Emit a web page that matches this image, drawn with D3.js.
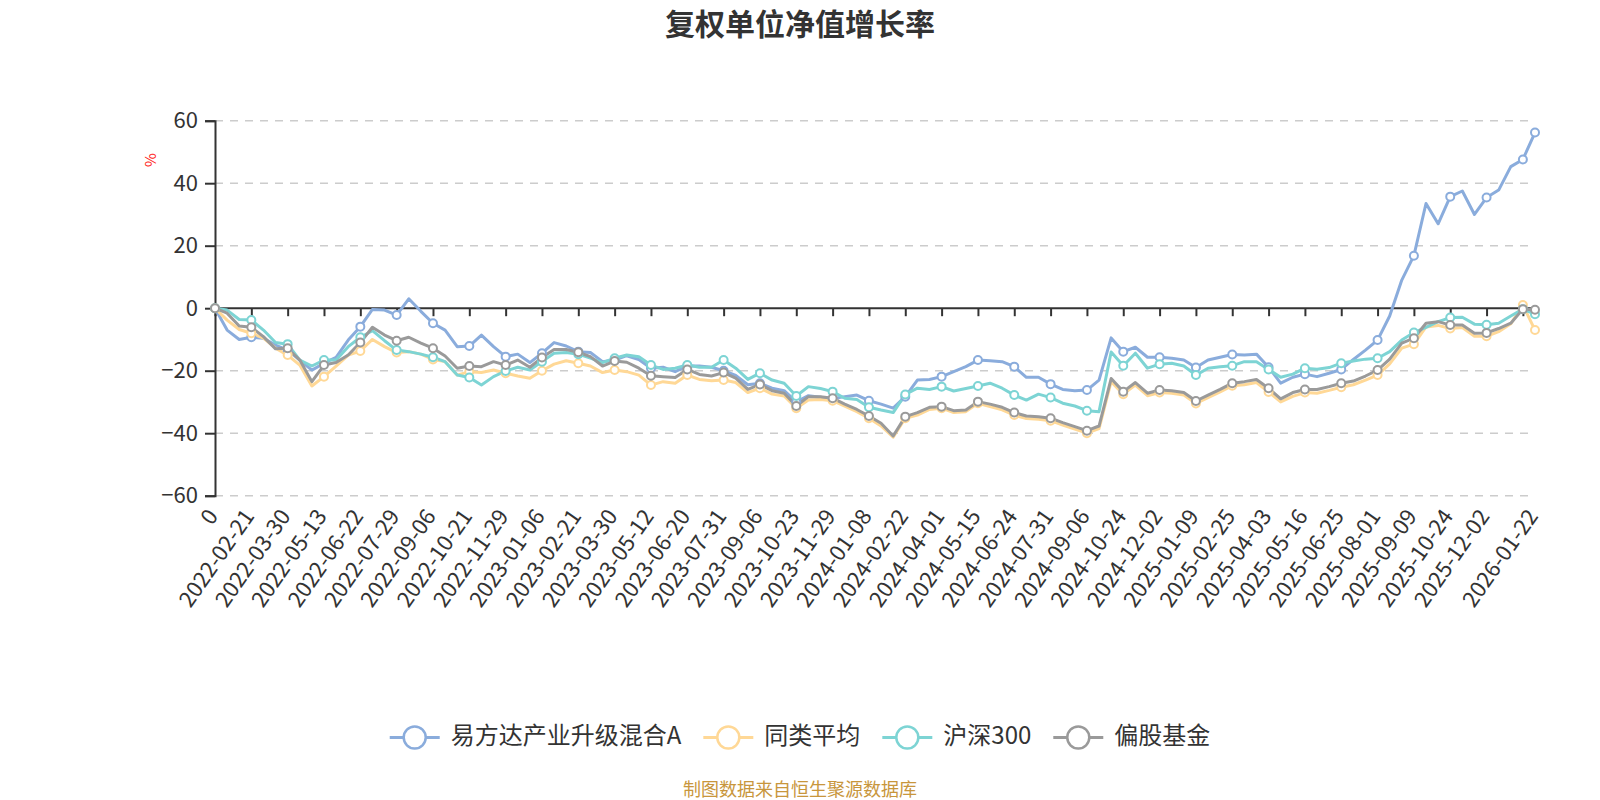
<!DOCTYPE html>
<html>
<head>
<meta charset="utf-8">
<script src="https://cdn.jsdelivr.net/npm/d3@7"></script>
<style>
  body { margin: 0; background: #fff; }
  text { font-family: "Noto Sans CJK SC", "Noto Sans", sans-serif; }
</style>
</head>
<body>
<div id="chart"></div>
<script>
// series names, in drawing order
const seriesNames = ["易方达产业升级混合A", "同类平均", "沪深300", "偏股基金"];
const seriesColors = ["#8aacdc", "#ffd896", "#7dd4d4", "#9a9a9a"];

// x-axis labels (every third sample, plus the last day)
const xLabels = ["0", "2022-02-21", "2022-03-30", "2022-05-13", "2022-06-22", "2022-07-29",
  "2022-09-06", "2022-10-21", "2022-11-29", "2023-01-06", "2023-02-21", "2023-03-30",
  "2023-05-12", "2023-06-20", "2023-07-31", "2023-09-06", "2023-10-23", "2023-11-29",
  "2024-01-08", "2024-02-22", "2024-04-01", "2024-05-15", "2024-06-24", "2024-07-31",
  "2024-09-06", "2024-10-24", "2024-12-02", "2025-01-09", "2025-02-25", "2025-04-03",
  "2025-05-16", "2025-06-25", "2025-08-01", "2025-09-09", "2025-10-24", "2025-12-02",
  "2026-01-22"];

const yTicks = [-60, -40, -20, 0, 20, 40, 60];

// values (%)
const fundA = [0, -7.0, -10.0, -9.3, -9.6, -11.8, -13.4, -16.6, -19.8, -17.6,
  -15.7, -10.2, -5.9, -0.4, -0.6, -2.2, 3.0, -1.0, -4.8, -7.0,
  -12.3, -12.1, -8.6, -12.3, -15.5, -14.7, -17.4, -14.4, -11.0, -12.1,
  -13.9, -14.2, -17.1, -16.6, -15.2, -16.4, -19.2, -18.9, -20.3, -18.5,
  -18.5, -18.9, -20.0, -21.5, -24.5, -24.0, -25.6, -26.4, -30.0, -28.0,
  -28.5, -29.0, -28.3, -27.8, -29.6, -30.7, -32.0, -28.3, -23.0, -22.8,
  -21.9, -20.3, -18.7, -16.6, -16.8, -17.1, -18.7, -22.1, -22.1, -24.3,
  -26.0, -26.4, -26.2, -23.0, -9.5, -13.9, -12.5, -15.7, -15.7, -16.0,
  -16.6, -19.0, -16.6, -15.7, -14.8, -15.0, -14.7, -18.9, -24.0, -22.1,
  -21.1, -21.9, -20.8, -19.6, -16.4, -13.4, -10.2, -2.5, 9.0, 16.8,
  33.5, 27.0, 35.7, 37.5, 30.0, 35.4, 37.8, 45.3, 47.6, 56.2];

const peerAvg = [0, -3.8, -6.8, -8.0, -9.6, -12.8, -15.0, -18.2, -24.9, -21.9,
  -18.5, -15.0, -13.7, -10.0, -12.3, -14.2, -13.9, -14.7, -16.4, -17.1,
  -21.4, -20.3, -20.6, -19.8, -20.8, -21.7, -22.4, -20.0, -17.9, -16.8,
  -17.6, -18.5, -20.6, -19.8, -20.3, -21.4, -24.6, -23.5, -24.0, -21.4,
  -22.8, -23.2, -23.0, -23.8, -27.0, -25.6, -27.5, -28.1, -32.0, -29.4,
  -29.2, -29.6, -31.3, -33.1, -35.2, -37.7, -41.3, -35.2, -34.2, -32.4,
  -32.0, -33.4, -33.1, -30.4, -31.5, -32.5, -34.2, -35.3, -35.5, -36.0,
  -37.4, -38.7, -40.0, -38.5, -23.5, -27.5, -24.6, -28.0, -27.0, -27.2,
  -27.8, -30.5, -28.6, -26.8, -24.8, -24.5, -23.8, -26.8, -30.0, -28.2,
  -27.0, -27.2, -26.3, -25.3, -24.5, -23.0, -21.4, -17.8, -12.8, -11.5,
  -6.0, -5.5, -6.5, -6.2, -9.0, -9.0, -7.5, -5.0, 1.0, -7.0];

const hs300 = [0, -0.6, -3.6, -3.8, -7.0, -11.0, -11.5, -16.6, -18.5, -16.6,
  -16.6, -12.3, -9.3, -7.2, -10.4, -13.4, -13.9, -14.7, -15.7, -17.1,
  -21.4, -22.2, -24.6, -21.9, -20.1, -18.9, -19.8, -17.1, -14.4, -14.2,
  -14.7, -16.0, -17.4, -16.0, -15.0, -15.5, -18.2, -19.6, -19.2, -18.2,
  -18.9, -18.9, -16.6, -19.2, -22.8, -20.8, -23.0, -24.0, -28.1, -25.1,
  -25.7, -26.7, -28.8, -29.2, -31.7, -32.6, -33.4, -27.6, -25.6, -26.0,
  -25.1, -26.5, -25.7, -24.9, -24.0, -25.6, -27.8, -29.4, -27.5, -28.6,
  -30.4, -31.3, -32.8, -33.1, -14.0, -18.4, -14.4, -19.2, -17.9, -17.6,
  -18.5, -21.4, -19.2, -18.7, -18.4, -17.1, -17.1, -19.6, -22.1, -21.1,
  -19.2, -19.5, -19.0, -17.6, -16.9, -16.3, -16.0, -13.9, -10.2, -7.8,
  -6.1, -4.3, -3.0, -2.9, -5.1, -5.3, -4.8, -2.5, -0.3, -1.9];

const equityFund = [0, -1.6, -5.7, -6.1, -9.1, -13.0, -12.8, -16.6, -23.5, -18.2,
  -17.4, -15.0, -11.0, -6.1, -8.6, -10.4, -9.3, -11.2, -12.8, -15.3,
  -19.2, -18.5, -18.7, -17.1, -18.2, -16.6, -18.9, -15.8, -13.2, -13.2,
  -14.1, -15.5, -18.5, -16.9, -17.3, -19.2, -21.6, -21.9, -22.2, -19.6,
  -21.2, -21.7, -20.6, -22.4, -26.0, -24.4, -26.4, -27.2, -31.3, -28.3,
  -28.3, -28.8, -30.7, -32.4, -34.5, -36.8, -40.9, -34.7, -33.4, -31.7,
  -31.5, -32.8, -32.6, -29.9, -30.7, -31.7, -33.4, -34.5, -34.7, -35.2,
  -36.6, -37.9, -39.2, -37.7, -22.5, -26.7, -23.8, -27.2, -26.2, -26.4,
  -27.0, -29.7, -27.8, -26.0, -24.0, -23.5, -22.8, -25.6, -29.0, -27.0,
  -26.0, -26.0, -25.1, -24.0, -23.3, -21.7, -19.8, -16.3, -11.2, -9.6,
  -4.8, -4.3, -5.4, -5.4, -8.0, -7.9, -6.5, -4.8, -0.3, -0.5];

const allSeries = [fundA, peerAvg, hs300, equityFund];

const width = 1600, height = 800;
const plotLeft = 215, plotRight = 1535, plotTop = 120.7, plotBottom = 495.7;
const step = 3; // samples between labelled ticks
const lastIdx = fundA.length - 1;

const svg = d3.select("#chart").append("svg")
  .attr("width", width)
  .attr("height", height);

const x = d3.scaleLinear().domain([0, lastIdx]).range([plotLeft, plotRight]);
const y = d3.scaleLinear().domain([-60, 60]).range([plotBottom, plotTop]);

// title
svg.append("text")
  .attr("x", width / 2).attr("y", 35)
  .attr("text-anchor", "middle")
  .attr("font-size", 30).attr("font-weight", "bold").attr("fill", "#333")
  .text("复权单位净值增长率");

// grid
svg.append("g").selectAll("line")
  .data(yTicks.filter(d => d !== 0))
  .join("line")
  .attr("x1", plotLeft).attr("x2", plotRight)
  .attr("y1", d => y(d)).attr("y2", d => y(d))
  .attr("stroke", "#ccc").attr("stroke-width", 1.6)
  .attr("stroke-dasharray", "8,7");

// y axis
const yAxis = svg.append("g")
  .attr("transform", `translate(${plotLeft},0)`)
  .call(d3.axisLeft(y).tickValues(yTicks).tickSize(10).tickPadding(7));
yAxis.select(".domain").attr("stroke", "#333").attr("stroke-width", 2);
yAxis.selectAll(".tick line").attr("stroke", "#333").attr("stroke-width", 2);
yAxis.selectAll(".tick text")
  .attr("font-size", 22).attr("fill", "#333")
  .style("font-family", '"Noto Sans CJK SC", "Noto Sans", sans-serif');

svg.append("text")
  .attr("transform", `translate(152,160) rotate(-90)`)
  .attr("text-anchor", "middle").attr("dominant-baseline", "middle")
  .attr("font-size", 15).attr("fill", "#ff2020")
  .text("%");

// x axis line on zero, with ticks
const tickIdx = d3.range(0, lastIdx, step);
const xAxis = svg.append("g")
  .attr("transform", `translate(0,${y(0)})`)
  .call(d3.axisBottom(x).tickValues(tickIdx).tickSize(8).tickFormat(""));
xAxis.select(".domain").attr("stroke", "#333").attr("stroke-width", 2)
  .attr("d", `M${plotLeft},0H${plotRight}`);
xAxis.selectAll(".tick line").attr("stroke", "#333").attr("stroke-width", 2);

// x labels at the bottom of the grid
const labelIdx = d3.range(0, xLabels.length - 1).map(k => k * step).concat([lastIdx]);
svg.append("g").selectAll("text")
  .data(labelIdx)
  .join("text")
  .attr("transform", d => `translate(${x(d) - 1},${plotBottom + 17}) rotate(-55)`)
  .attr("text-anchor", "end").attr("dominant-baseline", "middle")
  .attr("font-size", 22).attr("fill", "#333")
  .text((d, k) => xLabels[k]);

// lines
const line = d3.line()
  .x((d, i) => x(i))
  .y(d => y(d));

const markIdx = tickIdx.concat([lastIdx]);

allSeries.forEach((vals, s) => {
  svg.append("path")
    .datum(vals)
    .attr("fill", "none")
    .attr("stroke", seriesColors[s])
    .attr("stroke-width", 3)
    .attr("stroke-linejoin", "round")
    .attr("d", line);
});
allSeries.forEach((vals, s) => {
  svg.append("g").selectAll("circle")
    .data(markIdx)
    .join("circle")
    .attr("cx", d => x(d))
    .attr("cy", d => y(vals[d]))
    .attr("r", 4)
    .attr("fill", "#fff")
    .attr("stroke", seriesColors[s])
    .attr("stroke-width", 2);
});

// legend
const legend = svg.append("g");
const iconW = 50, textGap = 11, itemGap = 22, legY = 737.5;
let cursor = 0;
seriesNames.forEach((name, s) => {
  const g = legend.append("g");
  g.append("line")
    .attr("x1", 0).attr("x2", iconW).attr("y1", 0).attr("y2", 0)
    .attr("stroke", seriesColors[s]).attr("stroke-width", 3);
  g.append("circle")
    .attr("cx", iconW / 2).attr("cy", 0).attr("r", 11)
    .attr("fill", "#fff").attr("stroke", seriesColors[s]).attr("stroke-width", 2.5);
  const t = g.append("text")
    .attr("x", iconW + textGap).attr("y", 0)
    .attr("dominant-baseline", "middle")
    .attr("font-size", 24).attr("fill", "#333")
    .text(name);
  const w = iconW + textGap + t.node().getComputedTextLength();
  g.attr("transform", `translate(${cursor},${legY})`);
  cursor += w + itemGap;
});
const legendW = cursor - itemGap;
legend.attr("transform", `translate(${(width - legendW) / 2},0)`);

// source note
svg.append("text")
  .attr("x", width / 2).attr("y", 791)
  .attr("text-anchor", "middle").attr("dominant-baseline", "middle")
  .attr("font-size", 18).attr("fill", "#c8963c")
  .text("制图数据来自恒生聚源数据库");
</script>
</body>
</html>
